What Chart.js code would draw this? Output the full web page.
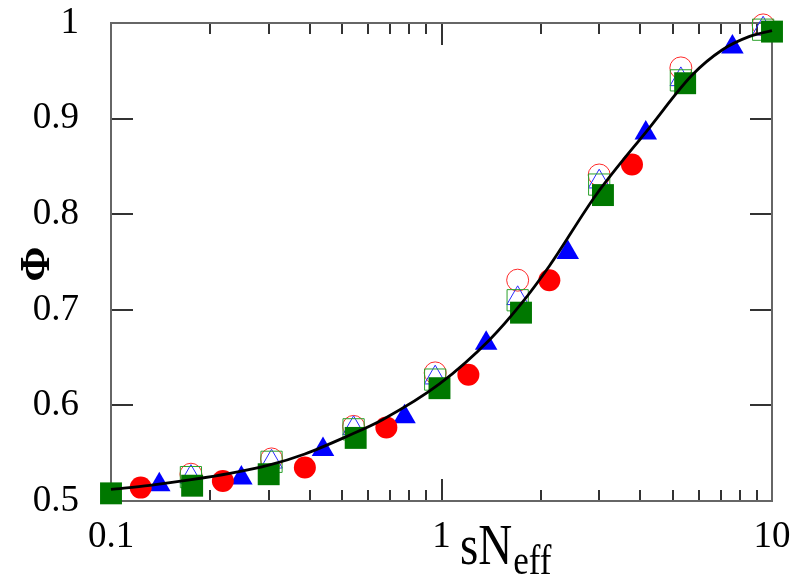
<!DOCTYPE html>
<html>
<head>
<meta charset="utf-8">
<script src="https://cdn.jsdelivr.net/npm/chart.js@4"></script>
<style>
  html, body { margin: 0; padding: 0; background: #fff; }
  #wrap { width: 800px; height: 579px; }
</style>
</head>
<body>
<div id="wrap"><canvas id="myChart" width="800" height="579"></canvas></div>
<script>
// values
const curveX = [0.1, 0.131, 0.173, 0.229, 0.302, 0.386, 0.515, 0.665, 0.986, 1.396, 1.741, 2.12, 2.934, 4.25, 5.733, 7.063, 8.521, 10];
const curveY = [0.5122, 0.5164, 0.522, 0.5288, 0.5377, 0.5492, 0.5673, 0.5853, 0.6224, 0.6684, 0.7061, 0.7458, 0.8201, 0.8901, 0.9456, 0.9718, 0.9857, 0.992];

const redX = [0.123, 0.218, 0.386, 0.681, 1.206, 2.12, 3.77];
const redY = [0.514, 0.521, 0.535, 0.577, 0.632, 0.731, 0.852];

const blueX = [0.140, 0.248, 0.438, 0.773, 1.365, 2.41, 4.15, 7.59];
const blueY = [0.517, 0.524, 0.554, 0.588, 0.665, 0.760, 0.885, 0.975];

const greenX = [0.1, 0.176, 0.30, 0.55, 0.986, 1.74, 3.08, 5.46, 10];
const greenY = [0.508, 0.516, 0.528, 0.566, 0.618, 0.697, 0.820, 0.937, 0.991];

const openX = [0.1745, 0.306, 0.542, 0.957, 1.70, 3.0, 5.3, 9.4];
const openCircleY = [0.528, 0.544, 0.578, 0.634, 0.731, 0.841, 0.953, 0.998];
const openTriY = [0.525, 0.541, 0.576, 0.629, 0.712, 0.834, 0.941, 0.994];
const openSquareY = [0.525, 0.541, 0.575, 0.627, 0.710, 0.831, 0.940, 0.993];

const xTickLabels = [0.1, 1, 10];
const xMinorTicks = [0.2, 0.3, 0.4, 0.5, 0.6, 0.7, 0.8, 0.9, 2, 3, 4, 5, 6, 7, 8, 9];
const yTicks = [0.5, 0.6, 0.7, 0.8, 0.9, 1];

function pts(xs, ys) {
    return xs.map((x, i) => ({ x: x, y: ys[i] }));
}

function scatter(xs, ys, style, color, radius, filled, order) {
    return {
        type: "scatter",
        data: pts(xs, ys),
        pointStyle: style,
        pointRadius: radius,
        pointBorderWidth: filled ? 0 : 1,
        borderColor: color,
        backgroundColor: filled ? color : "rgba(0,0,0,0)",
        clip: false,
        order: order
    };
}

const serif = "'Liberation Serif', 'DejaVu Serif', serif";

// frame, inward ticks and axis titles
const framePlugin = {
    id: "frame",
    beforeDatasetsDraw(chart) {
        const ctx = chart.ctx;
        const a = chart.chartArea;
        const xs = chart.scales.x, ys = chart.scales.y;
        ctx.save();
        ctx.strokeStyle = "#333";
        ctx.lineWidth = 2;
        ctx.beginPath();
        yTicks.forEach(v => {
            const py = Math.round(ys.getPixelForValue(v));
            if (v === 0.5 || v === 1) return;
            ctx.moveTo(a.left, py); ctx.lineTo(a.left + 22, py);
            ctx.moveTo(a.right, py); ctx.lineTo(a.right - 22, py);
        });
        xMinorTicks.forEach(v => {
            const px = Math.round(xs.getPixelForValue(v));
            ctx.moveTo(px, a.bottom); ctx.lineTo(px, a.bottom - 11);
            ctx.moveTo(px, a.top); ctx.lineTo(px, a.top + 11);
        });
        const p1 = Math.round(xs.getPixelForValue(1));
        ctx.moveTo(p1, a.bottom); ctx.lineTo(p1, a.bottom - 22);
        ctx.moveTo(p1, a.top); ctx.lineTo(p1, a.top + 22);
        ctx.stroke();

        ctx.strokeStyle = "#666";
        ctx.lineWidth = 2;
        ctx.strokeRect(a.left, a.top, a.right - a.left, a.bottom - a.top);
        ctx.restore();
    },
    afterDraw(chart) {
        const ctx = chart.ctx;
        ctx.save();
        // x title: sN with subscript eff
        ctx.fillStyle = "#000";
        ctx.textBaseline = "alphabetic";
        ctx.textAlign = "left";
        ctx.save();
        ctx.translate(460, 564);
        ctx.scale(1, 1.2);
        ctx.font = "47px " + serif;
        ctx.fillText("sN", 0, 0);
        const w = ctx.measureText("sN").width;
        ctx.font = "35px " + serif;
        ctx.fillText("eff", w + 1, 8);
        ctx.restore();

        // y title
        ctx.save();
        ctx.translate(38, 264);
        ctx.rotate(-Math.PI / 2);
        ctx.textAlign = "center";
        ctx.textBaseline = "middle";
        ctx.font = "bold 42px " + serif;
        ctx.fillText("Φ", 0, 0);
        ctx.restore();
        ctx.restore();
    }
};

new Chart("myChart", {
    data: {
        datasets: [
            {
                type: "line",
                data: pts(curveX, curveY),
                borderColor: "#000",
                borderWidth: 2.8,
                pointRadius: 0,
                fill: false,
                cubicInterpolationMode: "monotone",
                clip: false,
                order: 0
            },
            scatter(redX, redY, "circle", "#ff0000", 11, true, 1),
            scatter(blueX, blueY, "triangle", "#0000ff", 13, true, 2),
            scatter(greenX, greenY, "rect", "#007800", 15.5, true, 3),
            scatter(openX, openSquareY, "rect", "#2aa02a", 15, false, 4),
            scatter(openX, openTriY, "triangle", "#2a2aff", 12.5, false, 5),
            scatter(openX, openCircleY, "circle", "#ff2a2a", 11, false, 6)
        ]
    },
    options: {
        responsive: false,
        animation: false,
        events: [],
        layout: { padding: { top: 23, right: 28, left: 0, bottom: 0 } },
        plugins: { legend: { display: false }, tooltip: { enabled: false } },
        scales: {
            x: {
                type: "logarithmic",
                min: 0.1,
                max: 10,
                grid: { display: false },
                border: { display: false },
                afterBuildTicks(scale) {
                    scale.ticks = xTickLabels.map(v => ({ value: v }));
                },
                afterFit(scale) {
                    scale.height = 78;
                    scale.paddingLeft = 0;
                    scale.paddingRight = 0;
                },
                ticks: {
                    color: "#000",
                    padding: 6,
                    maxRotation: 0,
                    font: { family: serif, size: 37 },
                    callback: v => String(v)
                }
            },
            y: {
                type: "linear",
                min: 0.5,
                max: 1,
                grid: { display: false },
                border: { display: false },
                afterBuildTicks(scale) {
                    scale.ticks = yTicks.map(v => ({ value: v }));
                },
                afterFit(scale) {
                    scale.width = 111;
                    scale.paddingTop = 0;
                    scale.paddingBottom = 0;
                },
                ticks: {
                    color: "#000",
                    padding: 24,
                    font: { family: serif, size: 37 },
                    callback: v => String(Math.round(v * 10) / 10)
                }
            }
        }
    },
    plugins: [framePlugin]
});
</script>
</body>
</html>
